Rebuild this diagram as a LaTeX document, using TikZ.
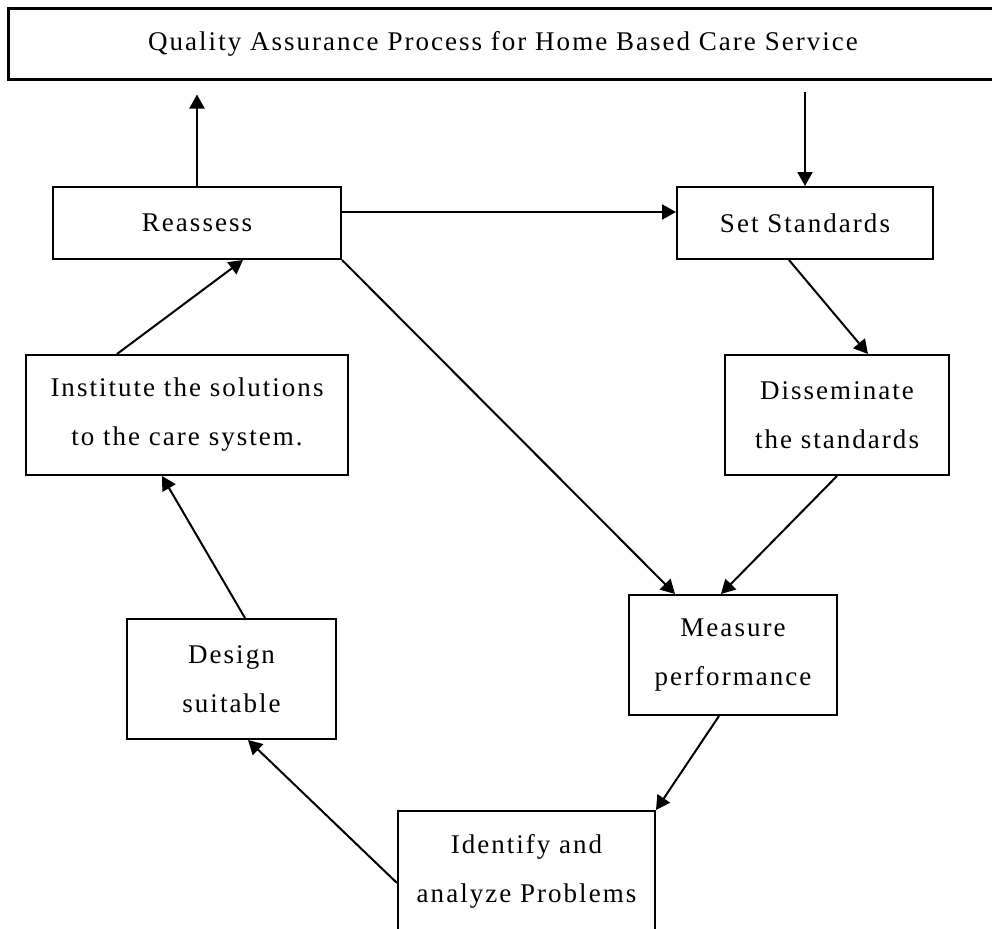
\documentclass[tikz,border=0pt]{standalone}
\usepackage{fontspec}
\setmainfont{Liberation Serif}[LetterSpace=7.5]
\usepackage{tikz}
\usetikzlibrary{arrows.meta,positioning}
\usetikzlibrary{calc}
\tikzset{
	%Define standard arrow tip
	>={Triangle[length=7pt,width=7.5pt]},
	%Define style for boxes
	punkt/.style={
		rectangle,
		draw=black, line width=1pt,
		align=center,
		inner sep=0pt,
		font=\fontsize{13.5}{24.5}\selectfont},
	% Define arrow style
	pil/.style={
		->,
		line width=1pt}
}
\begin{document}
\begin{tikzpicture}[x=0.5pt,y=-0.5pt]
	\useasboundingbox (0,0) rectangle (992,928);
	% node title
	\node[punkt, line width=1.5pt, minimum width=495pt, minimum height=35.5pt] (qa) at (503,43.5) {Quality Assurance Process for Home Based Care Service};
	% node Reassess
	\node[punkt, minimum width=144pt, minimum height=36pt] (reassess) at (197,223) {Reassess};
	% node Set Standards
	\node[punkt, minimum width=128pt, minimum height=36pt] (setstd) at (805,223) {Set Standards};
	% node Institute
	\node[punkt, minimum width=161pt, minimum height=60pt] (institute) at (187,415) {Institute the solutions\\to the care system.};
	% node Disseminate
	\node[punkt, minimum width=112pt, minimum height=60pt] (dissem) at (837,415) {Disseminate\\the standards};
	% node Design
	\node[punkt, minimum width=104.5pt, minimum height=60pt] (design) at (231.5,679) {Design\\suitable};
	% node Measure
	\node[punkt, minimum width=104pt, minimum height=60pt] (measure) at (733,655) {Measure\\performance};
	% node Identify
	\node[punkt, minimum width=128.5pt, minimum height=60pt] (identify) at (526.5,871) {Identify and\\analyze Problems};
	\draw[pil, shorten >=7pt]   (reassess.north) -- (reassess.north |- qa.south);
	\draw[pil, shorten <=5.5pt] (setstd.north |- qa.south) -- (setstd.north);
	\draw[pil]   ([yshift=5.5pt]reassess.east) -- ([yshift=5.5pt]setstd.west);
	\draw[pil]   (reassess.south east) -- ([xshift=23.5pt]measure.north west);
	\draw[pil]   ([xshift=-8pt]setstd.south) -- ([xshift=15.5pt]dissem.north);
	\draw[pil]   (dissem.south) -- ([xshift=-6pt]measure.north);
	\draw[pil]   ([xshift=-7pt]measure.south) -- (identify.north east);
	\draw[pil]   ([yshift=-6pt]identify.west) -- ([xshift=8.25pt]design.south);
	\draw[pil]   ([xshift=6.75pt]design.north) -- ([xshift=-12.5pt]institute.south);
	\draw[pil]   ([xshift=-35pt]institute.north) -- ([xshift=23pt]reassess.south);
\end{tikzpicture}
\end{document}
